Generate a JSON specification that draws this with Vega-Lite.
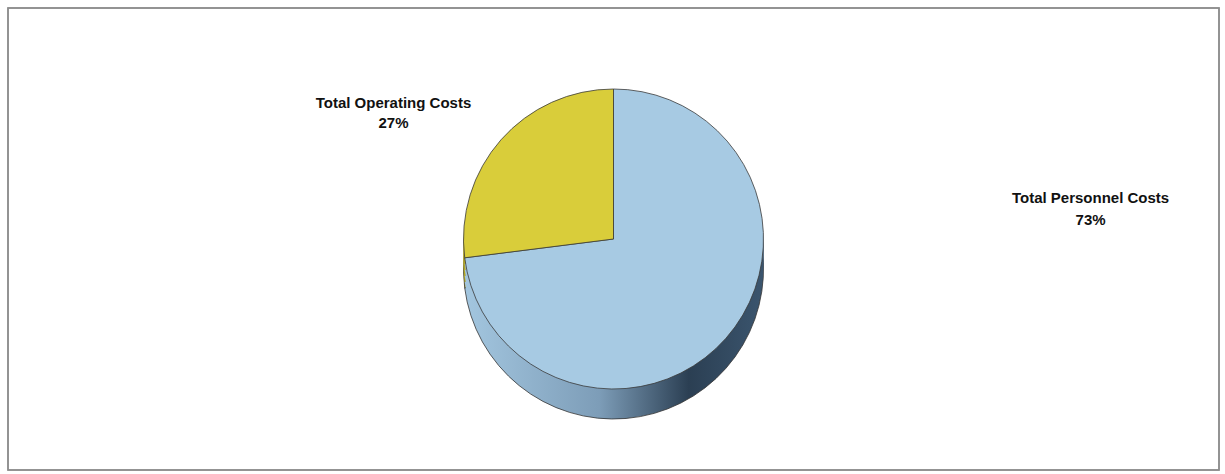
{
  "$schema": "https://vega.github.io/schema/vega-lite/v6.json",
  "width": 1225,
  "height": 474,
  "autosize": {"type": "fit", "contains": "padding"},
  "padding": {"left": 7, "top": 7, "right": 5, "bottom": 3},
  "background": "white",
  "view": {"stroke": "#8c8c8c", "strokeWidth": 1.5},
  "data": {
    "values": [
      {"category": "Total Personnel Costs", "share": 0.73, "rank": 1},
      {"category": "Total Operating Costs", "share": 0.27, "rank": 2}
    ]
  },
  "encoding": {
    "theta": {"field": "share", "type": "quantitative", "stack": true},
    "order": {"field": "rank", "type": "quantitative"}
  },
  "layer": [
    {
      "data": {"values": [{"frame": 1}]},
      "mark": {"type": "rect", "fill": "white", "fillOpacity": 0, "stroke": "#8c8c8c", "strokeWidth": 1.5},
      "encoding": {"theta": null, "order": null}
    },
    {
      "mark": {"type": "arc", "radius": 150, "yOffset": 30, "stroke": "#333333", "strokeWidth": 0.8},
      "encoding": {
        "fill": {
          "condition": {
            "test": "datum.rank == 1",
            "value": {"gradient": "linear", "x1": 0, "y1": 0, "x2": 1, "y2": 0,
              "stops": [
                {"offset": 0, "color": "#a3c6df"},
                {"offset": 0.45, "color": "#7d9db8"},
                {"offset": 0.75, "color": "#2b3f53"},
                {"offset": 1, "color": "#3b556e"}
              ]}
          },
          "value": "#b3a624"
        }
      }
    },
    {
      "mark": {"type": "arc", "radius": 150, "yOffset": 24, "strokeWidth": 0},
      "encoding": {
        "fill": {
          "condition": {
            "test": "datum.rank == 1",
            "value": {"gradient": "linear", "x1": 0, "y1": 0, "x2": 1, "y2": 0,
              "stops": [
                {"offset": 0, "color": "#a3c6df"},
                {"offset": 0.45, "color": "#7d9db8"},
                {"offset": 0.75, "color": "#2b3f53"},
                {"offset": 1, "color": "#3b556e"}
              ]}
          },
          "value": "#b3a624"
        }
      }
    },
    {
      "mark": {"type": "arc", "radius": 150, "yOffset": 18, "strokeWidth": 0},
      "encoding": {
        "fill": {
          "condition": {
            "test": "datum.rank == 1",
            "value": {"gradient": "linear", "x1": 0, "y1": 0, "x2": 1, "y2": 0,
              "stops": [
                {"offset": 0, "color": "#a3c6df"},
                {"offset": 0.45, "color": "#7d9db8"},
                {"offset": 0.75, "color": "#2b3f53"},
                {"offset": 1, "color": "#3b556e"}
              ]}
          },
          "value": "#b3a624"
        }
      }
    },
    {
      "mark": {"type": "arc", "radius": 150, "yOffset": 12, "strokeWidth": 0},
      "encoding": {
        "fill": {
          "condition": {
            "test": "datum.rank == 1",
            "value": {"gradient": "linear", "x1": 0, "y1": 0, "x2": 1, "y2": 0,
              "stops": [
                {"offset": 0, "color": "#a3c6df"},
                {"offset": 0.45, "color": "#7d9db8"},
                {"offset": 0.75, "color": "#2b3f53"},
                {"offset": 1, "color": "#3b556e"}
              ]}
          },
          "value": "#b3a624"
        }
      }
    },
    {
      "mark": {"type": "arc", "radius": 150, "yOffset": 6, "strokeWidth": 0},
      "encoding": {
        "fill": {
          "condition": {
            "test": "datum.rank == 1",
            "value": {"gradient": "linear", "x1": 0, "y1": 0, "x2": 1, "y2": 0,
              "stops": [
                {"offset": 0, "color": "#a3c6df"},
                {"offset": 0.45, "color": "#7d9db8"},
                {"offset": 0.75, "color": "#2b3f53"},
                {"offset": 1, "color": "#3b556e"}
              ]}
          },
          "value": "#b3a624"
        }
      }
    },
    {
      "mark": {"type": "arc", "radius": 150, "stroke": "#3a3a3a", "strokeWidth": 0.8},
      "encoding": {
        "fill": {
          "field": "category",
          "type": "nominal",
          "scale": {"domain": ["Total Personnel Costs", "Total Operating Costs"], "range": ["#a7cae3", "#d9cd3a"]},
          "legend": null
        }
      }
    },
    {
      "transform": [{"filter": "datum.rank == 2"}],
      "mark": {"type": "text", "radius": 200, "dx": -70, "dy": -4, "font": "Liberation Sans", "fontSize": 15, "fontWeight": "bold", "color": "#111111", "align": "center"},
      "encoding": {
        "theta": {"value": 5.435},
        "text": {"field": "category", "type": "nominal"}
      }
    },
    {
      "transform": [{"filter": "datum.rank == 2"}],
      "mark": {"type": "text", "radius": 200, "dx": -70, "dy": 16, "font": "Liberation Sans", "fontSize": 15, "fontWeight": "bold", "color": "#111111", "align": "center"},
      "encoding": {
        "theta": {"value": 5.435},
        "text": {"field": "share", "type": "quantitative", "format": ".0%"}
      }
    },
    {
      "transform": [{"filter": "datum.rank == 1"}],
      "mark": {"type": "text", "radius": 200, "dx": 327, "dy": -173, "font": "Liberation Sans", "fontSize": 15, "fontWeight": "bold", "color": "#111111", "align": "center"},
      "encoding": {
        "theta": {"value": 2.293},
        "text": {"field": "category", "type": "nominal"}
      }
    },
    {
      "transform": [{"filter": "datum.rank == 1"}],
      "mark": {"type": "text", "radius": 200, "dx": 327, "dy": -151, "font": "Liberation Sans", "fontSize": 15, "fontWeight": "bold", "color": "#111111", "align": "center"},
      "encoding": {
        "theta": {"value": 2.293},
        "text": {"field": "share", "type": "quantitative", "format": ".0%"}
      }
    }
  ]
}
